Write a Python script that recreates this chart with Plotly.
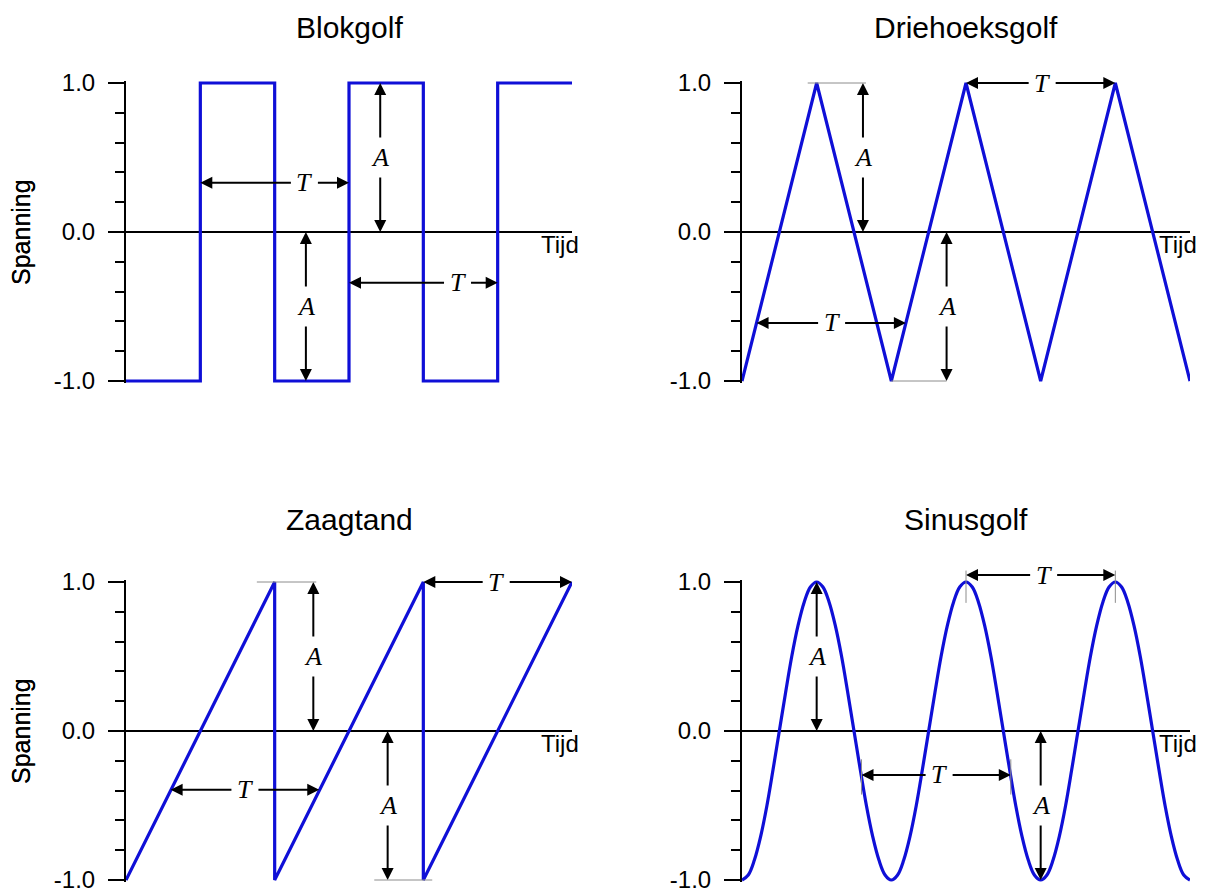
import plotly.graph_objects as go

# ---------------- data ----------------
square_t = [0, 0.5, 0.5, 1.0, 1.0, 1.5, 1.5, 2.0, 2.0, 2.5, 2.5, 3.0]
square_v = [-1, -1, 1, 1, -1, -1, 1, 1, -1, -1, 1, 1]

tri_t = [0, 0.5, 1.0, 1.5, 2.0, 2.5, 3.0]
tri_v = [-1, 1, -1, 1, -1, 1, -1]

saw_t = [0, 1.0, 1.0, 2.0, 2.0, 3.0]
saw_v = [-1, 1, -1, 1, -1, 1]

sine_t = [0, 0.042, 0.083, 0.125, 0.167, 0.208, 0.25, 0.292, 0.333, 0.375, 0.417, 0.458,
          0.5, 0.542, 0.583, 0.625, 0.667, 0.708, 0.75, 0.792, 0.833, 0.875, 0.917, 0.958,
          1.0, 1.042, 1.083, 1.125, 1.167, 1.208, 1.25, 1.292, 1.333, 1.375, 1.417, 1.458,
          1.5, 1.542, 1.583, 1.625, 1.667, 1.708, 1.75, 1.792, 1.833, 1.875, 1.917, 1.958,
          2.0, 2.042, 2.083, 2.125, 2.167, 2.208, 2.25, 2.292, 2.333, 2.375, 2.417, 2.458,
          2.5, 2.542, 2.583, 2.625, 2.667, 2.708, 2.75, 2.792, 2.833, 2.875, 2.917, 2.958,
          3.0]
sine_v = [-1, -0.966, -0.866, -0.707, -0.5, -0.259, 0, 0.259, 0.5, 0.707, 0.866, 0.966,
          1, 0.966, 0.866, 0.707, 0.5, 0.259, 0, -0.259, -0.5, -0.707, -0.866, -0.966,
          -1, -0.966, -0.866, -0.707, -0.5, -0.259, 0, 0.259, 0.5, 0.707, 0.866, 0.966,
          1, 0.966, 0.866, 0.707, 0.5, 0.259, 0, -0.259, -0.5, -0.707, -0.866, -0.966,
          -1, -0.966, -0.866, -0.707, -0.5, -0.259, 0, 0.259, 0.5, 0.707, 0.866, 0.966,
          1, 0.966, 0.866, 0.707, 0.5, 0.259, 0, -0.259, -0.5, -0.707, -0.866, -0.966,
          -1]

titles = ["Blokgolf", "Driehoeksgolf", "Zaagtand", "Sinusgolf"]
y_tickvals = [-1, 0, 1]
y_ticktext = ["-1.0", "0.0", "1.0"]
y_minorvals = [-0.8, -0.6, -0.4, -0.2, 0.2, 0.4, 0.6, 0.8]
x_label = "Tijd"
y_label = "Spanning"

# annotation geometry (data units): T-arrows (y, x_start, x_end, x_label, yshift)
t_arrows = {
    1: [(0.33, 0.5, 1.5, 1.20, 0), (-0.34, 1.5, 2.5, 2.23, 0)],
    2: [(-0.61, 0.0975, 1.0975, 0.60, 0), (1.0, 1.5, 2.5, 2.01, 0)],
    3: [(-0.395, 0.30, 1.30, 0.80, 0), (1.0, 2.0, 3.0, 2.49, 0)],
    4: [(-0.295, 0.80, 1.80, 1.32, 0), (1.0, 1.5, 2.5, 2.02, 7)],
}
# A-arrows (x, y_from, y_to, y_label)
a_arrows = {
    1: [(1.71, 1, 0, 0.5), (1.21, 0, -1, -0.5)],
    2: [(0.81, 1, 0, 0.5), (1.37, 0, -1, -0.5)],
    3: [(1.26, 1, 0, 0.5), (1.76, 0, -1, -0.5)],
    4: [(0.50, 1, 0, 0.5), (2.00, 0, -1, -0.5)],
}
# thin guide lines (x0, y0, x1, y1)
guides = {
    1: [],
    2: [(0.44, 1, 0.84, 1), (1.0, -1, 1.38, -1)],
    3: [(0.88, 1, 1.29, 1), (1.67, -1, 2.07, -1)],
    4: [(1.5, 0.86, 1.5, 1.09), (2.5, 0.86, 2.5, 1.09),
        (0.80, -0.19, 0.80, -0.44), (1.80, -0.19, 1.80, -0.44)],
}

# ---------------- layout ----------------
W, H = 1209, 889
OFF = 8  # page body margin
BLUE = "rgb(15,15,215)"
FONT = "Liberation Sans, Arial, sans-serif"
SERIF = "Liberation Serif, Times New Roman, serif"
PAD = 0.013
PXU = 149  # pixels per data unit (vertical)

xdom = {1: (126, 572), 2: (742, 1190), 3: (126, 572), 4: (742, 1190)}
yzero = {1: 232, 2: 232, 3: 731, 4: 731}
title_y = {1: 27, 2: 27, 3: 518, 4: 518}

fig = go.Figure()
series = [(square_t, square_v, "linear"), (tri_t, tri_v, "linear"),
          (saw_t, saw_v, "linear"), (sine_t, sine_v, "spline")]

annotations = []
for k in range(1, 5):
    xs = "" if k == 1 else str(k)
    xr, yr = "x" + xs, "y" + xs
    t, v, shape = series[k - 1]
    fig.add_trace(go.Scatter(x=t, y=v, mode="lines", xaxis=xr, yaxis=yr,
                             line=dict(color=BLUE, width=3.2, shape=shape),
                             showlegend=False, hoverinfo="skip"))
    half = (1 + PAD) * PXU
    top_px, bot_px = yzero[k] - half, yzero[k] + half
    xd = [(xdom[k][0] - OFF) / W, (xdom[k][1] - OFF) / W]
    yd = [1 - (bot_px - OFF) / H, 1 - (top_px - OFF) / H]
    fig.layout["xaxis" + xs] = dict(domain=xd, range=[0, 3], anchor=yr,
                                    showline=False, showgrid=False, zeroline=False,
                                    showticklabels=False, ticks="")
    fig.layout["yaxis" + xs] = dict(domain=yd, range=[-1 - PAD, 1 + PAD], anchor=xr,
                                    showline=True, linecolor="black", linewidth=2,
                                    showgrid=False, zeroline=True, zerolinecolor="black",
                                    zerolinewidth=2,
                                    tickmode="array", tickvals=y_tickvals, ticktext=y_ticktext,
                                    ticks="outside", ticklen=16, tickwidth=2, tickcolor="black",
                                    ticklabelstandoff=8,
                                    tickfont=dict(family=FONT, size=24, color="black"),
                                    minor=dict(tickmode="array", tickvals=y_minorvals,
                                               ticks="outside", ticklen=9, tickwidth=2,
                                               tickcolor="black"))
    # title
    annotations.append(dict(text=titles[k - 1], xref="paper", yref="paper",
                            x=(xd[0] + xd[1]) / 2,
                            y=1 - (title_y[k] - OFF + 1) / H,
                            xanchor="center", yanchor="middle", showarrow=False,
                            font=dict(family=FONT, size=30, color="black")))
    # y label
    annotations.append(dict(text=y_label, xref="paper", yref="paper",
                            x=(21 - OFF) / W,
                            y=1 - (yzero[k] - OFF) / H,
                            textangle=-90, xanchor="center", yanchor="middle",
                            showarrow=False,
                            font=dict(family=FONT, size=25, color="black")))
    # x label
    annotations.append(dict(text=x_label, xref=xr, yref=yr, x=3, y=0,
                            xanchor="center", yanchor="top", xshift=-12, yshift=3,
                            showarrow=False,
                            font=dict(family=FONT, size=24, color="black")))
    arrow_common = dict(xref=xr, yref=yr, axref=xr, ayref=yr, showarrow=True,
                        arrowhead=2, arrowsize=1.2, arrowwidth=2, arrowcolor="black",
                        startstandoff=4)
    for (y, x0, x1, xl, ys) in t_arrows[k]:
        for i, xe in enumerate((x0, x1)):
            annotations.append(dict(text="<i>T</i>", x=xe, y=y, ax=xl, ay=y, yshift=ys,
                                    font=dict(family=SERIF, size=26,
                                              color="black" if i == 0 else "rgba(0,0,0,0)"),
                                    **arrow_common))
    for (x, y0, y1, yl) in a_arrows[k]:
        for i, ye in enumerate((y0, y1)):
            annotations.append(dict(text="<i>A</i>", x=x, y=ye, ax=x, ay=yl,
                                    font=dict(family=SERIF, size=26,
                                              color="black" if i == 0 else "rgba(0,0,0,0)"),
                                    **arrow_common))
    for (gx0, gy0, gx1, gy1) in guides[k]:
        annotations.append(dict(text=" ", x=gx0, y=gy0, ax=gx1, ay=gy1,
                                xref=xr, yref=yr, axref=xr, ayref=yr, showarrow=True,
                                arrowhead=0, arrowwidth=1, arrowcolor="rgb(140,140,140)",
                                font=dict(size=1), standoff=0, startstandoff=0))

fig.update_layout(width=W, height=H, margin=dict(l=0, r=0, t=0, b=0),
                  template="none", plot_bgcolor="white", paper_bgcolor="white",
                  annotations=annotations, showlegend=False)

fig.write_html("out.html")
